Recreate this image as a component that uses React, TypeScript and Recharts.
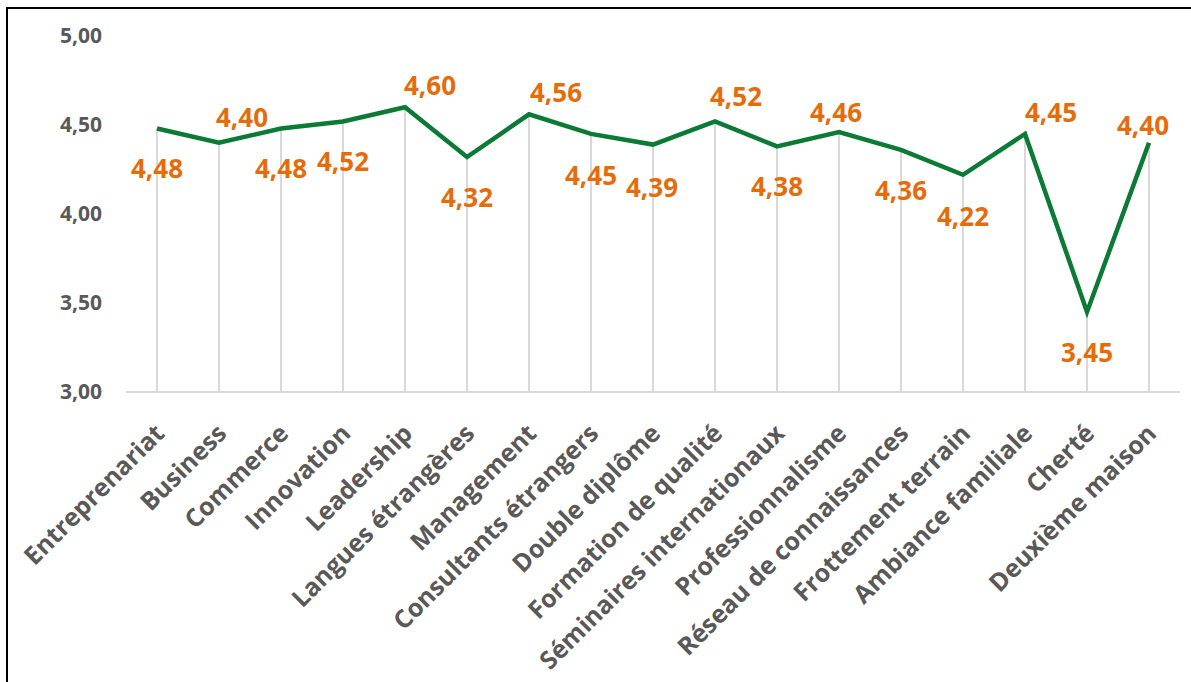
import React from "react";
import { ComposedChart, Line, Bar, XAxis, YAxis, LabelList } from "recharts";

const categories = [
  "Entreprenariat",
  "Business",
  "Commerce",
  "Innovation",
  "Leadership",
  "Langues étrangères",
  "Management",
  "Consultants étrangers",
  "Double diplôme",
  "Formation de qualité",
  "Séminaires internationaux",
  "Professionnalisme",
  "Réseau de connaissances",
  "Frottement terrain",
  "Ambiance familiale",
  "Cherté",
  "Deuxième maison",
];

const values = [4.48, 4.4, 4.48, 4.52, 4.6, 4.32, 4.56, 4.45, 4.39, 4.52, 4.38, 4.46, 4.36, 4.22, 4.45, 3.45, 4.4];

const yTicks = [3, 3.5, 4, 4.5, 5];

// label placement (styling only)
const labelDx = [0, 23, 0, 0, 25, 0, 27, 0, -1, 21, 0, -3, 0, 0, 26, 0, -6];
const labelDy = [39, -26, 39, 40, -22, 40, -22, 41, 42, -25, 40, -20, 40, 41, -22, 40, -18];

const data = categories.map((name, i) => ({ name, value: values[i] }));

const fmt = (v: number) => v.toFixed(2).replace(".", ",");

const FONT = "'Open Sans', 'DejaVu Sans', sans-serif";
const GREEN = "#0B7A35";
const ORANGE = "#E46C0A";
const GRAY_TEXT = "#595959";
const GRID = "#D9D9D9";

const XTick = (props: any) => {
  const { x, y, payload } = props;
  const ax = x + 9;
  const ay = y + 43;
  return (
    <text
      x={ax}
      y={ay}
      transform={`rotate(-45, ${ax}, ${ay})`}
      textAnchor="end"
      fill={GRAY_TEXT}
      fontFamily={FONT}
      fontWeight={700}
      fontSize={25}
    >
      {payload.value}
    </text>
  );
};

const ValueLabel = (props: any) => {
  const { x, y, value, index } = props;
  return (
    <text
      x={x + labelDx[index]}
      y={y + labelDy[index]}
      textAnchor="middle"
      dominantBaseline="central"
      fill={ORANGE}
      fontFamily={FONT}
      fontWeight={700}
      fontSize={26}
    >
      {fmt(value)}
    </text>
  );
};

export default function App() {
  return (
    <div
      style={{
        position: "absolute",
        left: 6,
        top: 7,
        width: 1183,
        height: 673,
        borderTop: "2px solid #000",
        borderLeft: "2px solid #000",
        background: "#fff",
        overflow: "hidden",
      }}
    >
      <ComposedChart
        width={1183}
        height={673}
        data={data}
        margin={{ top: 27, right: 11, left: 18, bottom: 0 }}
        barCategoryGap={0}
      >
        <XAxis
          dataKey="name"
          interval={0}
          height={290}
          tickLine={false}
          tickSize={0}
          tickMargin={0}
          axisLine={{ stroke: GRID, strokeWidth: 2 }}
          tick={<XTick />}
        />
        <YAxis
          width={100}
          domain={[3, 5]}
          ticks={yTicks}
          tickLine={false}
          axisLine={false}
          tickSize={6}
          tickMargin={18}
          tickFormatter={fmt}
          tick={{ fill: GRAY_TEXT, fontFamily: FONT, fontWeight: 700, fontSize: 21 }}
        />
        <Bar dataKey="value" barSize={2} fill={GRID} isAnimationActive={false} />
        <Line
          dataKey="value"
          stroke={GREEN}
          strokeWidth={4.5}
          dot={false}
          activeDot={false}
          isAnimationActive={false}
        >
          <LabelList dataKey="value" content={<ValueLabel />} />
        </Line>
      </ComposedChart>
    </div>
  );
}
